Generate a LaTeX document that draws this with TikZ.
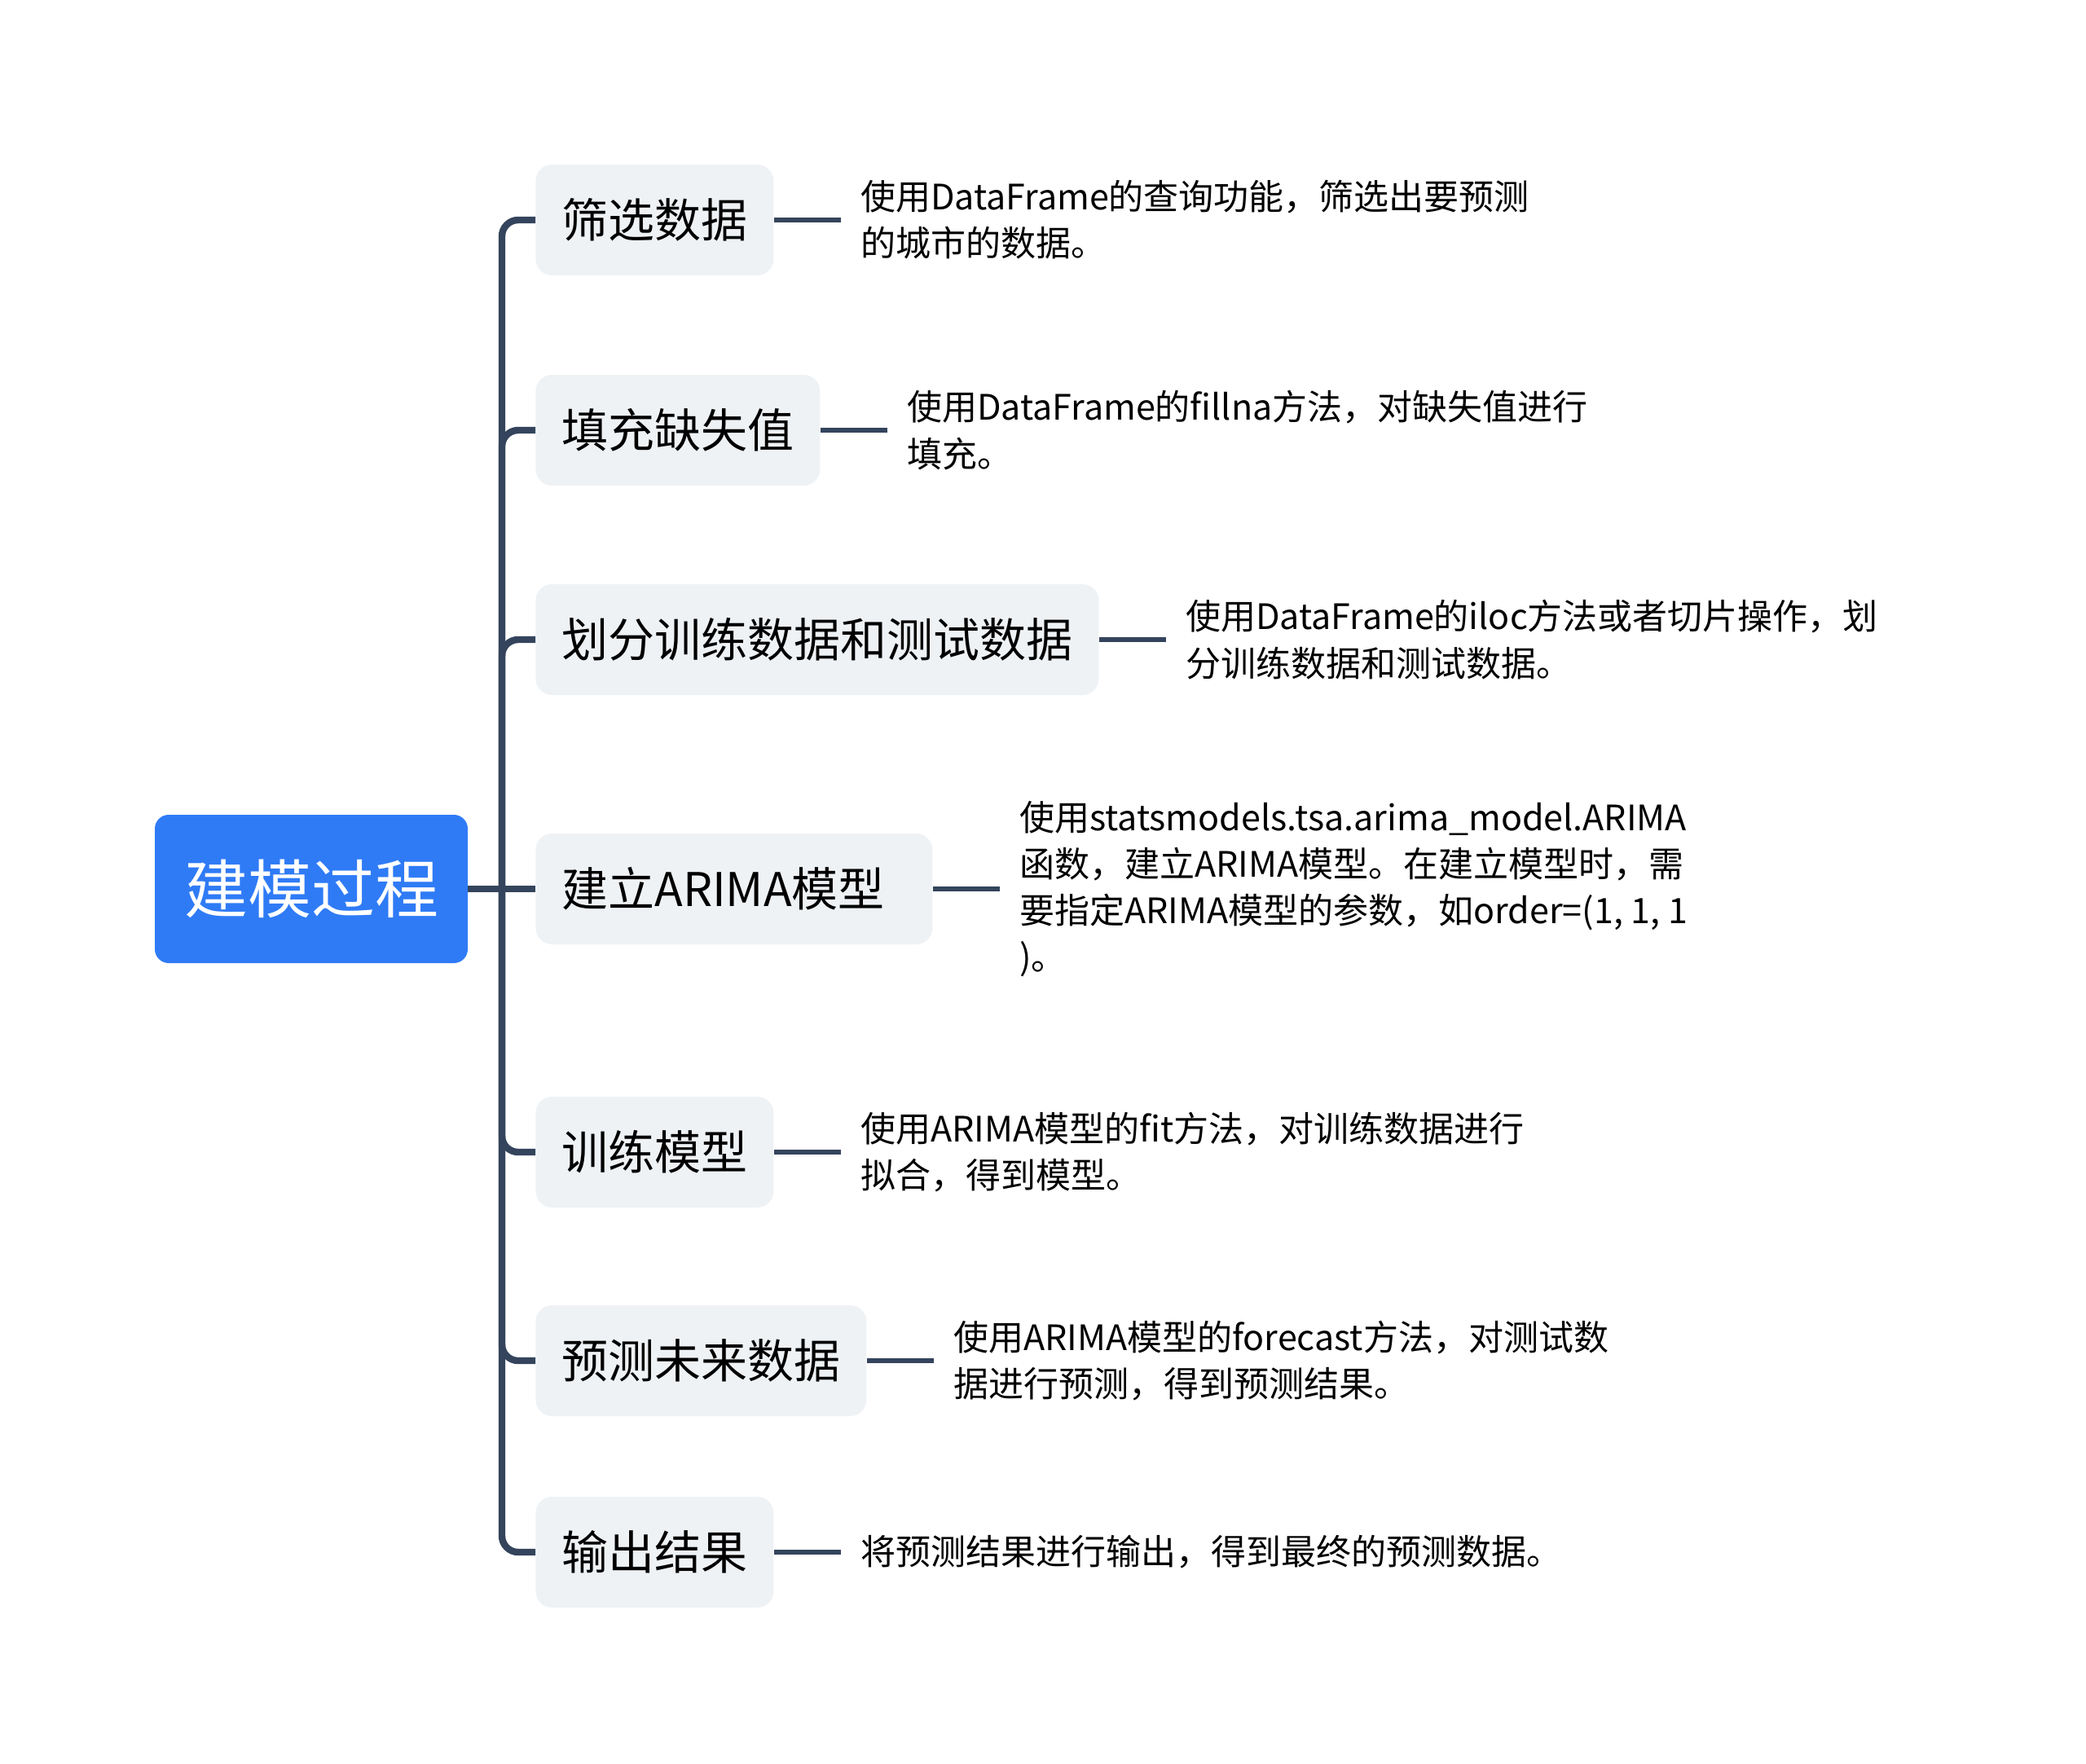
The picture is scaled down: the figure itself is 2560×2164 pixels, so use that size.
\documentclass[tikz,border=0pt]{standalone}
\usepackage{fontspec}
\setmainfont{Noto Sans CJK SC}
\usepackage{tikz}
\usetikzlibrary{positioning}
\definecolor{rootblue}{RGB}{47,123,246}
\definecolor{topicgray}{RGB}{239,242,245}
\definecolor{linkslate}{RGB}{52,68,92}
\tikzset{
    root/.style={rectangle, rounded corners=8.5pt, fill=rootblue, text=white,
        font=\fontsize{39pt}{46pt}\selectfont, minimum height=91pt, inner xsep=18pt},
    topic/.style={rectangle, rounded corners=10pt, fill=topicgray, anchor=west,
        font=\fontsize{28.5pt}{34pt}\selectfont, minimum height=68pt, inner xsep=16pt},
    note/.style={align=left, font=\fontsize{21.5pt}{28.6pt}\selectfont,
        inner xsep=12pt, inner ysep=0pt, anchor=west},
    branch/.style={draw=linkslate, line width=4.2pt, rounded corners=10pt},
    leaf/.style={draw=linkslate, line width=3pt}
}

\begin{document}
\begin{tikzpicture}[x=0.5pt, y=-0.5pt]

            \useasboundingbox (0,0) rectangle (2560,2164);

            \node[root] (R) at (382,1091) {建模过程};
            \coordinate (J) at (616,1091);

            \node[topic] (T1) at (657,270) {筛选数据};
            \node[topic] (T2) at (657,528) {填充缺失值};
            \node[topic] (T3) at (657,785) {划分训练数据和测试数据};
            \node[topic, text width=211.5pt, align=left] (T4) at (657,1091) {建立ARIMA模型};
            \node[topic] (T5) at (657,1414) {训练模型};
            \node[topic] (T6) at (657,1670) {预测未来数据};
            \node[topic] (T7) at (657,1905) {输出结果};

            \node[note, right=41pt of T1] (N1) {使用DataFrame的查询功能，筛选出要预测\\的城市的数据。};
            \node[note, right=41pt of T2] (N2) {使用DataFrame的fillna方法，对缺失值进行\\填充。};
            \node[note, right=41pt of T3] (N3) {使用DataFrame的iloc方法或者切片操作，划\\分训练数据和测试数据。};
            \node[note, right=41pt of T4] (N4) {使用statsmodels.tsa.arima\_model.ARIMA\\函数，建立ARIMA模型。在建立模型时，需\\要指定ARIMA模型的参数，如order=(1, 1, 1\\)。};
            \node[note, right=41pt of T5] (N5) {使用ARIMA模型的fit方法，对训练数据进行\\拟合，得到模型。};
            \node[note, right=41pt of T6] (N6) {使用ARIMA模型的forecast方法，对测试数\\据进行预测，得到预测结果。};
            \node[note, right=41pt of T7] (N7) {将预测结果进行输出，得到最终的预测数据。};

            \draw[branch] (R.east) -- (J);
            \draw[branch] (J) |- (T1.west);
            \draw[branch] (J) |- (T2.west);
            \draw[branch] (J) |- (T3.west);
            \draw[branch] (J) -- (T4.west);
            \draw[branch] (J) |- (T5.west);
            \draw[branch] (J) |- (T6.west);
            \draw[branch] (J) |- (T7.west);

            \draw[leaf] (T1.east) -- (N1.west);
            \draw[leaf] (T2.east) -- (N2.west);
            \draw[leaf] (T3.east) -- (N3.west);
            \draw[leaf] (T4.east) -- (N4.west);
            \draw[leaf] (T5.east) -- (N5.west);
            \draw[leaf] (T6.east) -- (N6.west);
            \draw[leaf] (T7.east) -- (N7.west);

        \end{tikzpicture}
\end{document}
